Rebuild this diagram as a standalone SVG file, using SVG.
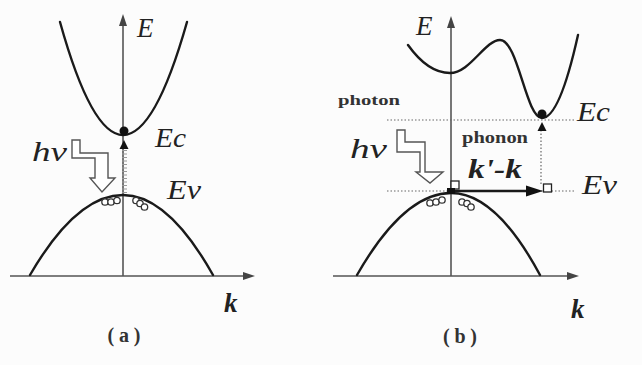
<svg xmlns="http://www.w3.org/2000/svg" width="642" height="365" viewBox="0 0 642 365">
<style>
.band{fill:none;stroke:#1a1a1a;stroke-width:2.4;stroke-linecap:round}
.axis{fill:none;stroke:#555;stroke-width:1.6}
.dot{fill:none;stroke:#666;stroke-width:1.2;stroke-dasharray:1.5 2}
.hole{fill:#fff;stroke:#333;stroke-width:1.3}
.zig{fill:#fff;stroke:#555;stroke-width:1.4;stroke-linejoin:miter}
.lbl{font-family:"Liberation Serif",serif;font-style:italic;fill:#222}
.kk{font-family:"Liberation Serif",serif;font-style:italic;font-weight:bold;fill:#222}
.word{font-family:"Liberation Serif",serif;font-weight:bold;fill:#333}
.cap{font-family:"Liberation Serif",serif;fill:#333;font-weight:bold}
</style>
<rect width="642" height="365" fill="#fcfcfc"/>

<!-- Panel (a) -->
<g id="axes-a">
<line class="axis" x1="123" y1="276" x2="123" y2="22"/>
<polygon points="123,14 119,26 127,26" fill="#444"/>
<line class="axis" x1="10" y1="276" x2="246" y2="276"/>
<polygon points="255,276 243,272 243,280" fill="#444"/>
<line x1="124.5" y1="150" x2="124.5" y2="194" stroke="#999" stroke-width="5" stroke-dasharray="1 2.5"/>
</g>
<g id="conduction-a">
<path class="band" d="M60,22 Q91.5,135 123,135 Q155,135 187,22"/>
</g>
<g id="valence-a">
<path class="band" d="M30,275 Q76.5,195 123,195 Q168,195 213,275"/>
</g>
<g id="electron-a">
<circle cx="124" cy="131" r="4.5" fill="#111"/>
<polygon points="124,140 119.5,149 128.5,149" fill="#111"/>
</g>
<g id="holes-a">
<circle class="hole" cx="105" cy="202" r="3.2"/>
<circle class="hole" cx="111" cy="202" r="3.2"/>
<circle class="hole" cx="117" cy="200.5" r="3.2"/>
<circle class="hole" cx="136" cy="200.5" r="3.2"/>
<circle class="hole" cx="140" cy="203.5" r="3.2"/>
<circle class="hole" cx="144.5" cy="207" r="3.2"/>
</g>
<g id="photon-a">
<path class="zig" d="M72,140 L80,140 L80,153 L108,153 L108,178 L115,178 L102,192 L90,178 L95,178 L95,158 L72,158 Z"/>
</g>
<g id="labels-a">
<text class="lbl" x="137" y="37" font-size="27">E</text>
<text class="lbl" x="155" y="147" font-size="27" textLength="31" lengthAdjust="spacingAndGlyphs">Ec</text>
<text class="lbl" x="167" y="199" font-size="27" textLength="34" lengthAdjust="spacingAndGlyphs">Ev</text>
<text class="lbl" x="32" y="161" font-size="27" textLength="35" lengthAdjust="spacingAndGlyphs">hν</text>
<text class="kk" x="224" y="312" font-size="27">k</text>
<text class="cap" x="124" y="342" font-size="20" text-anchor="middle" textLength="33" lengthAdjust="spacing">(a)</text>
</g>

<!-- Panel (b) -->
<g id="axes-b">
<line class="axis" x1="451" y1="276" x2="451" y2="24"/>
<polygon points="451,16 447,28 455,28" fill="#444"/>
<line class="axis" x1="333" y1="276" x2="570" y2="276"/>
<polygon points="579,276 567,272 567,280" fill="#444"/>
</g>
<g id="guides-b">
<line class="dot" x1="387" y1="120" x2="576" y2="120"/>
<line class="dot" x1="387" y1="191" x2="576" y2="191"/>
<line class="dot" x1="541" y1="130" x2="541" y2="184"/>
</g>
<g id="conduction-b">
<path class="band" d="M408,45 Q428,73 450,73 C470,73 485,40 500,40 C518,40 526,118 542,118 C556,118 568,80 578,35"/>
</g>
<g id="valence-b">
<path class="band" d="M357,275 Q404,193 451,193 Q496,193 540,275"/>
</g>
<g id="electron-b">
<circle cx="542" cy="114" r="4.5" fill="#111"/>
<polygon points="542,122 537.5,131 546.5,131" fill="#111"/>
</g>
<g id="holes-b">
<circle class="hole" cx="430" cy="203" r="3.2"/>
<circle class="hole" cx="436" cy="202" r="3.2"/>
<circle class="hole" cx="442" cy="200" r="3.2"/>
<circle class="hole" cx="462" cy="202" r="3.2"/>
<circle class="hole" cx="467" cy="203.5" r="3.2"/>
<circle class="hole" cx="471" cy="207" r="3.2"/>
</g>
<g id="states-b">
<rect x="451" y="181" width="8" height="8" fill="#fff" stroke="#222" stroke-width="1.3"/>
<rect x="447" y="188" width="8" height="6" fill="#111"/>
<rect x="543.5" y="184" width="8" height="8" fill="#fff" stroke="#222" stroke-width="1.3"/>
</g>
<g id="phonon-arrow">
<line x1="455" y1="191" x2="530" y2="191" stroke="#1a1a1a" stroke-width="2.4"/>
<polygon points="526,185.5 543,191 526,196.5" fill="#111"/>
</g>
<g id="photon-b">
<path class="zig" d="M397,130 L405,130 L405,142 L425,142 L425,172 L443,172 L430,183 L416,172 L420,172 L420,152 L397,152 Z"/>
</g>
<g id="labels-b">
<text class="lbl" x="416" y="35" font-size="27">E</text>
<text class="lbl" x="577" y="121" font-size="27" textLength="33" lengthAdjust="spacingAndGlyphs">Ec</text>
<text class="lbl" x="582" y="194" font-size="27" textLength="35" lengthAdjust="spacingAndGlyphs">Ev</text>
<text class="lbl" x="350" y="158" font-size="27" textLength="37" lengthAdjust="spacingAndGlyphs">hν</text>
<text class="word" x="338" y="105" font-size="15" textLength="62" lengthAdjust="spacingAndGlyphs">photon</text>
<text class="word" x="462" y="143" font-size="16" textLength="66" lengthAdjust="spacingAndGlyphs">phonon</text>
<text class="kk" x="468" y="178" font-size="27" textLength="54" lengthAdjust="spacingAndGlyphs">k'-k</text>
<text class="kk" x="571" y="318" font-size="27">k</text>
<text class="cap" x="460" y="343" font-size="20" text-anchor="middle" textLength="34" lengthAdjust="spacing">(b)</text>
</g>
</svg>
